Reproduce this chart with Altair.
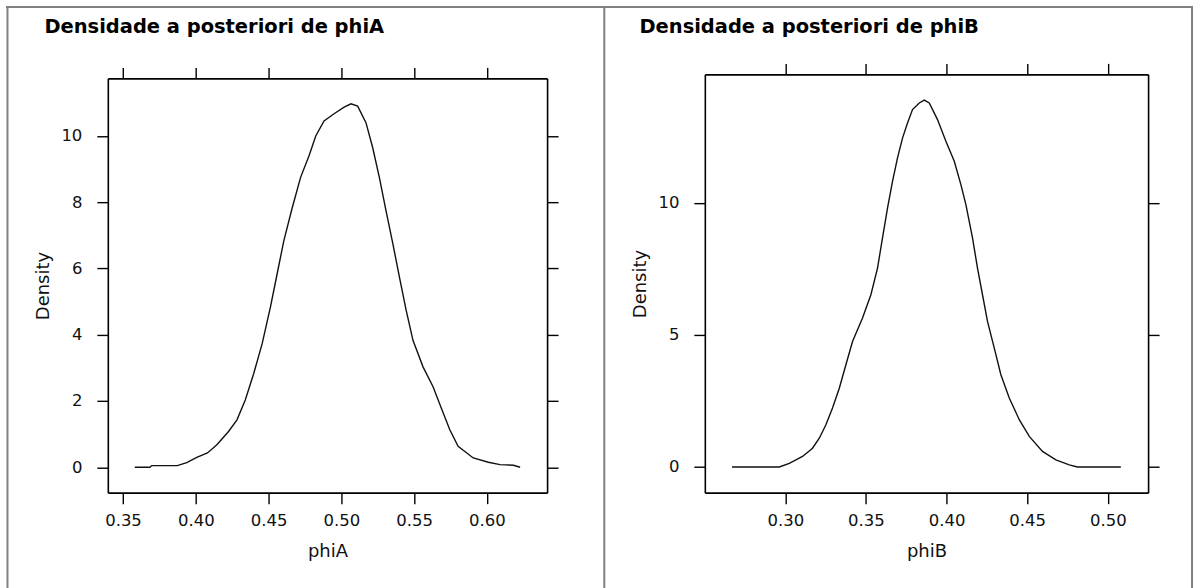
import altair as alt
import pandas as pd

# ---- data ----
phiA_x = [0.3581, 0.3685, 0.3697, 0.3873, 0.3938, 0.4007, 0.4080, 0.4145, 0.4225, 0.4283,
          0.4340, 0.4398, 0.4456, 0.4513, 0.4559, 0.4605, 0.4663, 0.4720, 0.4778, 0.4824,
          0.4881, 0.4950, 0.5019, 0.5066, 0.5112, 0.5169, 0.5215, 0.5261, 0.5307, 0.5354,
          0.5399, 0.5445, 0.5492, 0.5561, 0.5630, 0.5687, 0.5745, 0.5802, 0.5906, 0.6010,
          0.6090, 0.6182, 0.6228]
phiA_y = [0.00, 0.00, 0.05, 0.05, 0.14, 0.30, 0.43, 0.68, 1.08, 1.43,
          2.03, 2.83, 3.73, 4.84, 5.84, 6.84, 7.84, 8.75, 9.40, 10.00,
          10.45, 10.67, 10.87, 10.97, 10.90, 10.40, 9.65, 8.75, 7.74, 6.74,
          5.74, 4.74, 3.83, 3.03, 2.43, 1.78, 1.13, 0.63, 0.28, 0.15,
          0.08, 0.06, 0.00]

phiB_x = [0.2670, 0.2963, 0.3025, 0.3107, 0.3169, 0.3211, 0.3252, 0.3293, 0.3335, 0.3376,
          0.3417, 0.3479, 0.3531, 0.3572, 0.3603, 0.3634, 0.3665, 0.3696, 0.3727, 0.3758,
          0.3789, 0.3831, 0.3862, 0.3893, 0.3944, 0.3996, 0.4048, 0.4089, 0.4120, 0.4161,
          0.4192, 0.4223, 0.4254, 0.4296, 0.4337, 0.4389, 0.4451, 0.4513, 0.4595, 0.4678,
          0.4761, 0.4812, 0.5081]
phiB_y = [0.00, 0.00, 0.14, 0.40, 0.71, 1.09, 1.60, 2.23, 2.98, 3.87,
          4.75, 5.64, 6.52, 7.53, 8.67, 9.80, 10.81, 11.70, 12.45, 13.02,
          13.53, 13.78, 13.89, 13.78, 13.15, 12.33, 11.57, 10.69, 9.93, 8.67,
          7.53, 6.52, 5.51, 4.50, 3.49, 2.61, 1.79, 1.16, 0.59, 0.27,
          0.08, 0.00, 0.00]

phiA_xticks = [0.35, 0.40, 0.45, 0.50, 0.55, 0.60]
phiA_yticks = [0, 2, 4, 6, 8, 10]
phiB_xticks = [0.30, 0.35, 0.40, 0.45, 0.50]
phiB_yticks = [0, 5, 10]

titles = ["Densidade a posteriori de phiA", "Densidade a posteriori de phiB"]
xnames = ["phiA", "phiB"]
ylabel = "Density"

FONT = "DejaVu Sans"
PAD = 0.07  # lattice-style axis padding

dummy = pd.DataFrame({"k": [0]})


def padded(vals):
    lo, hi = min(vals), max(vals)
    r = hi - lo
    return [lo - PAD * r, hi + PAD * r]


def title_mark(text, dx, dy):
    return alt.Chart(dummy).mark_text(
        align="left", baseline="alphabetic", font=FONT, fontSize=19.5,
        fontWeight="bold", color="black"
    ).encode(x=alt.value(dx), y=alt.value(dy), text=alt.value(text))


def panel(xs, ys, xticks, yticks, title, xname, width, height, yrange,
          top_offset, title_dx, title_dy, extras):
    df = pd.DataFrame({"x": xs, "y": ys})
    xscale = alt.Scale(domain=padded(xs), nice=False, zero=False)
    if yrange is not None:
        yscale = alt.Scale(domain=padded(ys), nice=False, zero=False, range=yrange)
    else:
        yscale = alt.Scale(domain=padded(ys), nice=False, zero=False)

    line = alt.Chart(df).mark_line(color="#111111", strokeWidth=1.4).encode(
        x=alt.X("x:Q", scale=xscale,
                axis=alt.Axis(orient="bottom", values=xticks, format=".2f",
                              title=xname, tickSize=11, labelPadding=9,
                              titlePadding=13, grid=False)),
        y=alt.Y("y:Q", scale=yscale,
                axis=alt.Axis(orient="left", values=yticks, format="d",
                              title=ylabel, tickSize=11, labelPadding=15,
                              titlePadding=8, grid=False)),
    )
    ghost = alt.Chart(df).mark_line(opacity=0).encode(
        x=alt.X("x:Q", scale=xscale,
                axis=alt.Axis(orient="top", values=xticks, labels=False,
                              title=None, tickSize=11, offset=top_offset, grid=False)),
        y=alt.Y("y:Q", scale=yscale,
                axis=alt.Axis(orient="right", values=yticks, labels=False,
                              title=None, tickSize=11, grid=False)),
    )
    ttl = title_mark(title, title_dx, title_dy)
    return alt.layer(*extras, ttl, line, ghost).resolve_axis(
        x="independent", y="independent"
    ).properties(width=width, height=height)


OX, OY = 107, 73  # page position of left plot origin


def rule(x1, y1, x2, y2):
    return alt.Chart(dummy).mark_rule(color="#808080", strokeWidth=2).encode(
        x=alt.value(x1 - OX), x2=alt.value(x2 - OX),
        y=alt.value(y1 - OY), y2=alt.value(y2 - OY))


canvas = alt.Chart(dummy).mark_rect(opacity=0).encode(
    x=alt.value(-OX), x2=alt.value(1201 - OX),
    y=alt.value(-OY), y2=alt.value(588 - OY))

frame = [canvas,
         rule(5, 5.5, 1194, 5.5),
         rule(6.5, 5, 6.5, 588),
         rule(604.3, 5, 604.3, 588),
         rule(1193, 5, 1193, 588)]

left = panel(phiA_x, phiA_y, phiA_xticks, phiA_yticks, titles[0], xnames[0],
             440, 419, [419, 4], -4, 45 - 107 - 1.5, 32 - 73, frame)
right = panel(phiB_x, phiB_y, phiB_xticks, phiB_yticks, titles[1], xnames[1],
              444, 419, None, 0, 641 - 705 - 1.5, 32 - 73, [])

chart = alt.hconcat(left, right, spacing=158, bounds="flush", padding=0).configure_view(
    stroke="transparent"
).configure_axis(
    domainColor="black", tickColor="black", domainWidth=1.6, tickWidth=1.4,
    labelColor="#111111", titleColor="#111111",
    labelFont=FONT, titleFont=FONT, labelFontSize=16.5, titleFontSize=18,
    titleFontWeight="normal", labelAngle=0,
).properties(background="white")

chart.save("out.html", embed_options={"renderer": "svg", "actions": False})
